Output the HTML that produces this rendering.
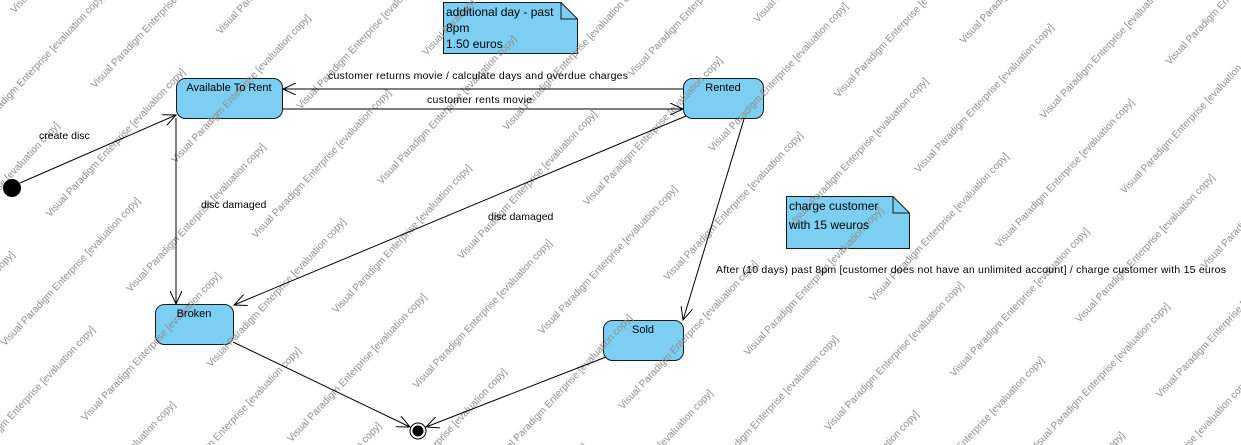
<!DOCTYPE html>
<html><head><meta charset="utf-8"><style>
html,body{margin:0;padding:0;background:#fff;}
svg{display:block;font-family:"Liberation Sans",Arial,sans-serif;}
</style></head><body>
<svg width="1241" height="445" viewBox="0 0 1241 445" xmlns="http://www.w3.org/2000/svg">
<defs>
<marker id="a" markerWidth="14" markerHeight="12" refX="13" refY="6" orient="auto" markerUnits="userSpaceOnUse">
<path d="M0,0 L13,6 L0,12" fill="none" stroke="#000" stroke-width="1"/>
</marker>
<pattern id="wm" width="250" height="110" patternUnits="userSpaceOnUse" patternTransform="rotate(-47)">
<g fill="#8c8c8c" font-size="10" font-family="Liberation Sans, Arial, sans-serif">
<text x="0" y="20">Visual Paradigm Enterprise [evaluation copy]</text>
<text x="125" y="75">Visual Paradigm Enterprise [evaluation copy]</text>
<text x="-125" y="75">Visual Paradigm Enterprise [evaluation copy]</text>
</g>
</pattern>
</defs>
<rect width="1241" height="445" fill="#fff"/>

<g fill="#7ccff3" stroke="#1a1a1a" stroke-width="1">
<rect x="176.5" y="78.5" width="106" height="40" rx="9"/>
<rect x="683.5" y="78.5" width="80" height="40" rx="9"/>
<rect x="155.5" y="304.5" width="78" height="40" rx="9"/>
<rect x="603.5" y="320.5" width="80" height="40" rx="9"/>
<path d="M443.5,2.5 H561 L577.5,19 V53.5 H443.5 Z"/>
<path d="M561,2.5 V19 H577.5" fill="none"/>
<path d="M786.5,196.5 H893 L909.5,213 V248.5 H786.5 Z"/>
<path d="M893,196.5 V213 H909.5" fill="none"/>
</g>

<rect width="1241" height="445" fill="url(#wm)"/>

<g stroke="#000" stroke-width="1" fill="none">
<line x1="20" y1="183" x2="176" y2="115" marker-end="url(#a)"/>
<line x1="683" y1="89" x2="283" y2="89" marker-end="url(#a)"/>
<line x1="283" y1="109" x2="683" y2="109" marker-end="url(#a)"/>
<line x1="176" y1="118" x2="176" y2="304" marker-end="url(#a)"/>
<line x1="686" y1="116" x2="234" y2="305" marker-end="url(#a)"/>
<line x1="744" y1="119" x2="683" y2="320" marker-end="url(#a)"/>
<line x1="233" y1="342" x2="410" y2="427" marker-end="url(#a)"/>
<line x1="606" y1="357" x2="426" y2="427" marker-end="url(#a)"/>
</g>
<circle cx="12" cy="188" r="9" fill="#000"/>
<circle cx="418" cy="431" r="8" fill="#fff" stroke="#000" stroke-width="1"/>
<circle cx="418" cy="431" r="5.5" fill="#000"/>

<g font-size="11" fill="#000" text-anchor="middle">
<text x="229" y="91">Available To Rent</text>
<text x="723" y="91">Rented</text>
<text x="194" y="317">Broken</text>
<text x="643" y="333">Sold</text>
</g>
<g font-size="12" fill="#000">
<text x="446" y="16">additional day - past</text>
<text x="446" y="32">8pm</text>
<text x="446" y="48">1.50 euros</text>
<text x="789" y="210">charge customer</text>
<text x="789" y="229">with 15 weuros</text>
</g>
<g font-size="10.5" fill="#000">
<text x="39" y="139">create disc</text>
<text x="328" y="79" textLength="300">customer returns movie / calculate days and overdue charges</text>
<text x="427" y="103" textLength="105">customer rents movie</text>
<text x="201" y="208">disc damaged</text>
<text x="488" y="220">disc damaged</text>
<text x="716" y="273" textLength="510">After (10 days) past 8pm [customer does not have an unlimited account] / charge customer with 15 euros</text>
</g>
</svg>
</body></html>
